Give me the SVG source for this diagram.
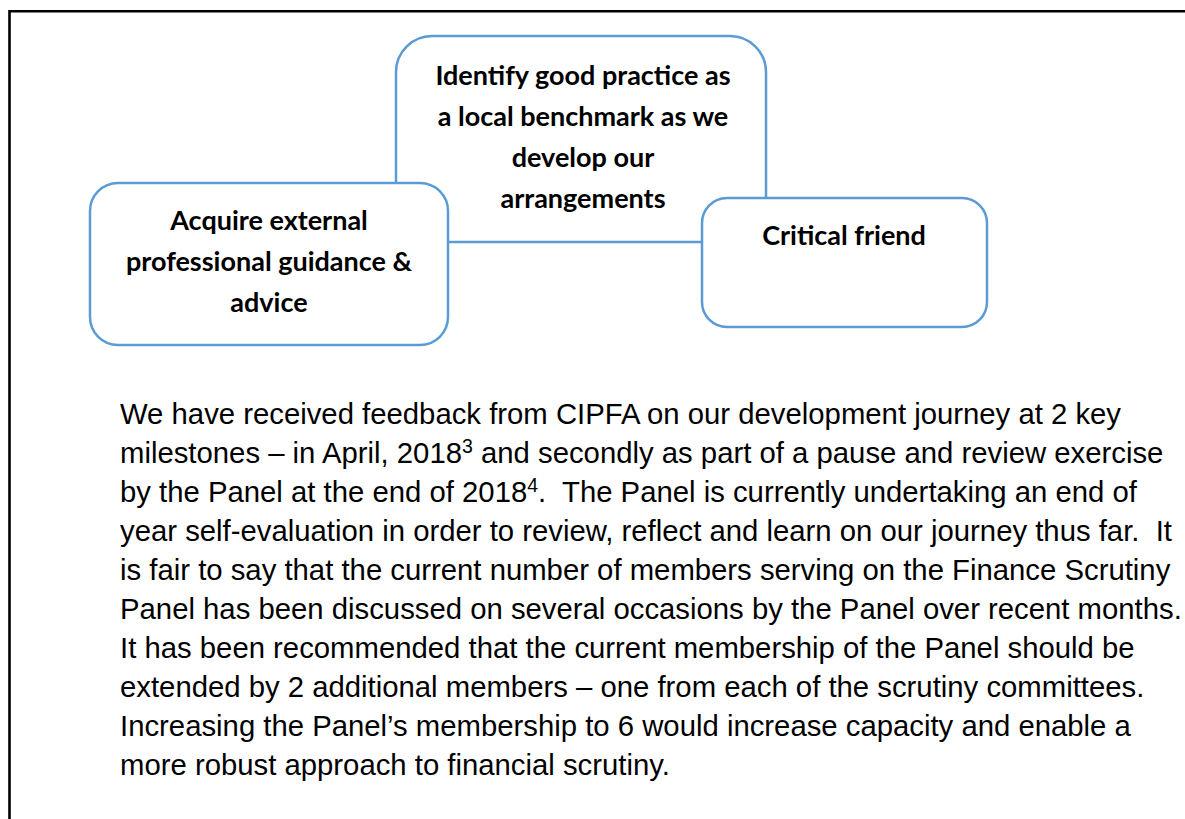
<svg xmlns="http://www.w3.org/2000/svg" width="1185" height="819" viewBox="0 0 1185 819">
<style>
.box{fill:#ffffff;stroke:#5b9bd5;stroke-width:2.5}
.bt{font-family:Lato,"Open Sans","Liberation Sans",sans-serif;font-weight:700;font-size:27px;fill:#000;text-anchor:middle}
.p{font-family:"Liberation Sans",Arial,sans-serif;font-size:29.3px;fill:#000;white-space:pre}
.sup{font-size:19.5px}
</style>
<rect width="1185" height="819" fill="#ffffff"/>
<path d="M9.5,819 V11.2 H1185" fill="none" stroke="#000" stroke-width="2.6"/>
<g id="connectors"/>
<g id="node-identify">
<rect class="box" x="396" y="36" width="370" height="206" rx="36" ry="36"/>
<text class="bt" x="583" y="85">Identify good practice as</text>
<text class="bt" x="583" y="126">a local benchmark as we</text>
<text class="bt" x="583" y="167">develop our</text>
<text class="bt" x="583" y="208">arrangements</text>
</g>
<g id="node-acquire">
<rect class="box" x="90" y="183" width="358" height="162" rx="28" ry="28"/>
<text class="bt" x="269" y="230">Acquire external</text>
<text class="bt" x="269" y="271">professional guidance &amp;</text>
<text class="bt" x="269" y="312">advice</text>
</g>
<g id="node-critical">
<rect class="box" x="702" y="198" width="285" height="129" rx="25" ry="25"/>
<text class="bt" x="844" y="245">Critical friend</text>
</g>
<g id="paragraph">
<text class="p" x="120" y="424">We have received feedback from CIPFA on our development journey at 2 key</text>
<text class="p" x="120" y="463">milestones – in April, 2018<tspan class="sup" dy="-10">3</tspan><tspan dy="10"> and secondly as part of a pause and review exercise</tspan></text>
<text class="p" x="120" y="502">by the Panel at the end of 2018<tspan class="sup" dy="-10">4</tspan><tspan dy="10">.  The Panel is currently undertaking an end of</tspan></text>
<text class="p" x="120" y="541">year self-evaluation in order to review, reflect and learn on our journey thus far.  It</text>
<text class="p" x="120" y="580">is fair to say that the current number of members serving on the Finance Scrutiny</text>
<text class="p" x="120" y="619">Panel has been discussed on several occasions by the Panel over recent months.</text>
<text class="p" x="120" y="658">It has been recommended that the current membership of the Panel should be</text>
<text class="p" x="120" y="697">extended by 2 additional members – one from each of the scrutiny committees.</text>
<text class="p" x="120" y="736">Increasing the Panel’s membership to 6 would increase capacity and enable a</text>
<text class="p" x="120" y="775">more robust approach to financial scrutiny.</text>
</g>
</svg>
